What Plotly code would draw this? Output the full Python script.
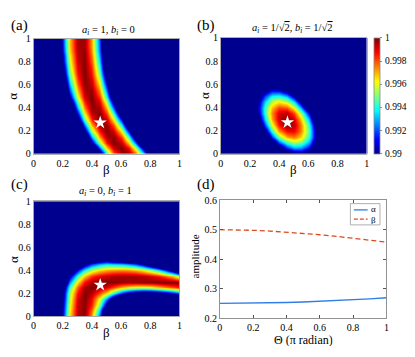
import plotly.graph_objects as go

# grid of the three fidelity maps
beta_vals = [0.0, 0.05, 0.1, 0.15, 0.2, 0.25, 0.3, 0.35, 0.4, 0.45, 0.5,
             0.55, 0.6, 0.65, 0.7, 0.75, 0.8, 0.85, 0.9, 0.95, 1.0]
alpha_vals = [0.0, 0.05, 0.1, 0.15, 0.2, 0.25, 0.3, 0.35, 0.4, 0.45, 0.5,
              0.55, 0.6, 0.65, 0.7, 0.75, 0.8, 0.85, 0.9, 0.95, 1.0]

# infidelity (1 - F) in units of 1e-3, one row per alpha value
infid_a = [
    [30, 30, 30, 30, 30, 30, 30, 29, 19.4, 11.8, 6.1, 2.2, 0.3, 0.2, 2.0, 5.7, 11.3, 18.7, 28, 30, 30],
    [30, 30, 30, 30, 30, 30, 30, 22.5, 14.2, 7.8, 3.3, 0.7, 0.0, 1.2, 4.4, 9.4, 16.3, 25.2, 30, 30, 30],
    [30, 30, 30, 30, 30, 30, 26.4, 17.2, 10.0, 4.7, 1.4, 0.0, 0.6, 3.2, 7.7, 14.1, 22.5, 30, 30, 30, 30],
    [30, 30, 30, 30, 30, 30, 21.8, 13.4, 7.1, 2.7, 0.4, 0.1, 1.9, 5.6, 11.5, 19.3, 29.1, 30, 30, 30, 30],
    [30, 30, 30, 30, 30, 27.4, 17.7, 10.1, 4.6, 1.3, 0.0, 0.9, 3.8, 8.9, 16.0, 25.3, 30, 30, 30, 30, 30],
    [30, 30, 30, 30, 30, 23.4, 14.4, 7.5, 2.9, 0.4, 0.2, 2.1, 6.2, 12.5, 21.0, 30, 30, 30, 30, 30, 30],
    [30, 30, 30, 30, 30, 19.9, 11.5, 5.4, 1.6, 0.0, 0.7, 3.6, 8.8, 16.3, 26.0, 30, 30, 30, 30, 30, 30],
    [30, 30, 30, 30, 26.7, 16.7, 9.1, 3.7, 0.7, 0.0, 1.7, 5.6, 11.8, 20.4, 30, 30, 30, 30, 30, 30, 30],
    [30, 30, 30, 30, 23.2, 13.9, 7.0, 2.4, 0.2, 0.4, 3.0, 7.9, 15.2, 24.9, 30, 30, 30, 30, 30, 30, 30],
    [30, 30, 30, 30, 20.6, 11.7, 5.4, 1.5, 0.0, 1.0, 4.4, 10.3, 18.6, 29.4, 30, 30, 30, 30, 30, 30, 30],
    [30, 30, 30, 28.6, 17.9, 9.7, 4.0, 0.8, 0.0, 1.8, 6.0, 12.7, 21.9, 30, 30, 30, 30, 30, 30, 30, 30],
    [30, 30, 30, 26.1, 15.9, 8.2, 3.1, 0.4, 0.2, 2.6, 7.5, 14.9, 24.8, 30, 30, 30, 30, 30, 30, 30, 30],
    [30, 30, 30, 24.0, 14.2, 7.0, 2.3, 0.1, 0.6, 3.5, 9.0, 17.1, 27.7, 30, 30, 30, 30, 30, 30, 30, 30],
    [30, 30, 30, 22.4, 12.9, 6.0, 1.7, 0.0, 0.9, 4.4, 10.4, 19.1, 30, 30, 30, 30, 30, 30, 30, 30, 30],
    [30, 30, 30, 20.7, 11.6, 5.2, 1.3, 0.0, 1.3, 5.2, 11.6, 20.7, 30, 30, 30, 30, 30, 30, 30, 30, 30],
    [30, 30, 30, 19.8, 10.9, 4.6, 1.0, 0.0, 1.6, 5.9, 12.8, 22.3, 30, 30, 30, 30, 30, 30, 30, 30, 30],
    [30, 30, 29.7, 18.6, 10.0, 4.1, 0.8, 0.1, 2.0, 6.6, 13.8, 23.6, 30, 30, 30, 30, 30, 30, 30, 30, 30],
    [30, 30, 29.2, 18.0, 9.6, 3.8, 0.6, 0.1, 2.3, 7.2, 14.7, 24.9, 30, 30, 30, 30, 30, 30, 30, 30, 30],
    [30, 30, 28.2, 17.3, 9.0, 3.4, 0.5, 0.2, 2.6, 7.7, 15.4, 25.8, 30, 30, 30, 30, 30, 30, 30, 30, 30],
    [30, 30, 27.7, 16.9, 8.7, 3.2, 0.4, 0.3, 2.8, 7.9, 15.8, 26.3, 30, 30, 30, 30, 30, 30, 30, 30, 30],
    [30, 30, 27.5, 16.7, 8.6, 3.2, 0.4, 0.3, 2.8, 8.1, 16.0, 26.5, 30, 30, 30, 30, 30, 30, 30, 30, 30],
]

infid_b = [
    [30, 30, 30, 30, 30, 30, 27.3, 20.9, 16.1, 12.7, 10.8, 10.4, 11.6, 14.2, 18.3, 23.9, 30, 30, 30, 30, 30],
    [30, 30, 30, 30, 30, 29.3, 21.9, 16.0, 11.6, 8.6, 7.2, 7.3, 8.9, 11.9, 16.5, 22.6, 30, 30, 30, 30, 30],
    [30, 30, 30, 30, 30, 24.3, 17.3, 11.8, 7.8, 5.4, 4.4, 4.9, 6.9, 10.5, 15.5, 22.0, 30, 30, 30, 30, 30],
    [30, 30, 30, 30, 28.0, 20.0, 13.5, 8.4, 4.9, 2.9, 2.4, 3.3, 5.8, 9.8, 15.3, 22.2, 30, 30, 30, 30, 30],
    [30, 30, 30, 30, 24.0, 16.5, 10.4, 5.8, 2.7, 1.2, 1.1, 2.5, 5.4, 9.9, 15.8, 23.2, 30, 30, 30, 30, 30],
    [30, 30, 30, 29.5, 20.8, 13.7, 8.1, 4.0, 1.3, 0.2, 0.6, 2.5, 5.8, 10.7, 17.1, 25.0, 30, 30, 30, 30, 30],
    [30, 30, 30, 26.6, 18.4, 11.7, 6.6, 2.9, 0.7, 0.0, 0.9, 3.2, 7.0, 12.3, 19.2, 27.5, 30, 30, 30, 30, 30],
    [30, 30, 30, 24.5, 16.8, 10.5, 5.8, 2.6, 0.9, 0.6, 1.9, 4.7, 9.0, 14.7, 22.0, 30, 30, 30, 30, 30, 30],
    [30, 30, 30, 23.2, 15.9, 10.1, 5.8, 3.1, 1.8, 2.0, 3.7, 7.0, 11.7, 17.9, 25.6, 30, 30, 30, 30, 30, 30],
    [30, 30, 30, 22.6, 15.8, 10.5, 6.6, 4.3, 3.5, 4.2, 6.3, 10.0, 15.2, 21.9, 30, 30, 30, 30, 30, 30, 30],
    [30, 30, 30, 22.8, 16.5, 11.6, 8.2, 6.3, 6.0, 7.1, 9.7, 13.8, 19.5, 26.6, 30, 30, 30, 30, 30, 30, 30],
    [30, 30, 30, 23.8, 17.9, 13.5, 10.6, 9.1, 9.2, 10.8, 13.9, 18.4, 24.5, 30, 30, 30, 30, 30, 30, 30, 30],
    [30, 30, 30, 25.6, 20.1, 16.2, 13.7, 12.7, 13.2, 15.3, 18.8, 23.8, 30, 30, 30, 30, 30, 30, 30, 30, 30],
    [30, 30, 30, 28.2, 23.1, 19.6, 17.6, 17.1, 18.0, 20.5, 24.5, 30, 30, 30, 30, 30, 30, 30, 30, 30, 30],
    [30, 30, 30, 30, 26.9, 23.9, 22.3, 22.2, 23.6, 26.6, 30, 30, 30, 30, 30, 30, 30, 30, 30, 30, 30],
    [30, 30, 30, 30, 30, 28.8, 27.7, 28.1, 30, 30, 30, 30, 30, 30, 30, 30, 30, 30, 30, 30, 30],
    [30] * 21,
    [30] * 21,
    [30] * 21,
    [30] * 21,
    [30] * 21,
]

infid_c = [
    [30, 30, 28.6, 17.5, 9.1, 3.5, 0.5, 0.2, 2.7, 8.0, 16.1, 27.0, 30, 30, 30, 30, 30, 30, 30, 30, 30],
    [30, 30, 28.9, 17.8, 9.4, 3.7, 0.6, 0.1, 2.2, 6.7, 13.6, 23.0, 30, 30, 30, 30, 30, 30, 30, 30, 30],
    [30, 30, 28.9, 18.0, 9.7, 4.0, 0.7, 0.1, 1.5, 5.0, 10.4, 17.8, 27.2, 30, 30, 30, 30, 30, 30, 30, 30],
    [30, 30, 29.6, 18.7, 10.2, 4.3, 0.9, 0.0, 1.2, 4.0, 7.6, 12.1, 17.0, 20.0, 22.0, 23.9, 24.2, 24.0, 23.4, 21.7, 20.2],
    [30, 30, 30, 19.5, 10.5, 4.6, 1.3, 0.0, 0.5, 2.0, 3.5, 5.9, 8.5, 10.2, 11.2, 11.9, 11.8, 11.2, 10.4, 9.2, 8.0],
    [30, 30, 30, 19.7, 11.5, 5.7, 2.1, 0.4, 0.0, 0.4, 0.9, 1.9, 3.0, 3.6, 4.0, 4.0, 3.8, 3.2, 2.6, 2.0, 1.4],
    [30, 30, 30, 21.5, 13.5, 7.4, 3.5, 1.3, 0.4, 0.0, 0.0, 0.1, 0.3, 0.4, 0.4, 0.3, 0.2, 0.1, 0.0, 0.0, 0.2],
    [30, 30, 30, 24.0, 15.5, 9.6, 5.6, 3.1, 1.7, 1.0, 0.7, 0.4, 0.3, 0.3, 0.3, 0.5, 0.8, 1.2, 2.0, 3.0, 4.6],
    [30, 30, 30, 26.3, 18.8, 12.9, 8.8, 6.0, 4.3, 3.3, 2.8, 2.6, 2.5, 2.6, 2.9, 3.5, 4.6, 5.9, 7.8, 10.6, 14.3],
    [30, 30, 30, 30, 23.1, 17.4, 13.0, 10.1, 8.1, 6.9, 6.3, 6.5, 6.7, 7.2, 8.0, 9.3, 11.7, 14.0, 17.6, 22.8, 29.5],
    [30, 30, 30, 30, 30, 22.7, 18.6, 15.5, 13.2, 11.8, 11.1, 12.3, 13.0, 14.1, 15.6, 17.8, 21.9, 25.6, 30, 30, 30],
    [30, 30, 30, 30, 30, 30, 25.4, 22.1, 19.7, 18.1, 17.4, 19.8, 21.4, 23.3, 25.8, 29.0, 30, 30, 30, 30, 30],
    [30, 30, 30, 30, 30, 30, 30, 30, 27.4, 25.8, 25.0, 29.1, 30, 30, 30, 30, 30, 30, 30, 30, 30],
    [30] * 21,
    [30] * 21,
    [30] * 21,
    [30] * 21,
    [30] * 21,
    [30] * 21,
    [30] * 21,
    [30] * 21,
]

# optimum marked by the star
star_beta = [0.457]
star_alpha = [0.272]

# panel (d)
theta = [0.0, 0.1, 0.2, 0.3, 0.4, 0.5, 0.6, 0.7, 0.8, 0.9, 1.0]
amp_alpha = [0.250, 0.2502, 0.2508, 0.2517, 0.2530, 0.2547, 0.2568, 0.2593, 0.2622, 0.2655, 0.2692]
amp_beta = [0.500, 0.4995, 0.4980, 0.4955, 0.4920, 0.4875, 0.4830, 0.4775, 0.4715, 0.4650, 0.4580]

tick_vals = [0, 0.2, 0.4, 0.6, 0.8, 1]
tick_text = ["0", "0.2", "0.4", "0.6", "0.8", "1"]
cbar_vals = [0.99, 0.992, 0.994, 0.996, 0.998, 1.0]
cbar_text = ["0.99", "0.992", "0.994", "0.996", "0.998", "1"]

JET = [
    [0.0, "rgb(0,0,143)"],
    [0.125, "rgb(0,0,255)"],
    [0.375, "rgb(0,255,255)"],
    [0.625, "rgb(255,255,0)"],
    [0.875, "rgb(255,0,0)"],
    [1.0, "rgb(128,0,0)"],
]
SERIF = "Liberation Serif, Times New Roman, serif"
BLUE = "#2f7de6"
RED = "#dd4a1e"
W, H = 415, 357
CBAR_TOP, CBAR_BOTTOM = 33, 153


def px_x(x):
    return x / W


def px_y(y):
    return 1 - y / H


def to_fidelity(grid):
    return [[1 - v / 1000 for v in row] for row in grid]


fig = go.Figure()

panels = [("x", "y", infid_a), ("x2", "y2", infid_b), ("x3", "y3", infid_c)]
for xa, ya, grid in panels:
    fig.add_trace(
        go.Heatmap(
            x=beta_vals,
            y=alpha_vals,
            z=to_fidelity(grid),
            coloraxis="coloraxis",
            zsmooth="best",
            xaxis=xa,
            yaxis=ya,
            hoverinfo="skip",
        )
    )
    fig.add_trace(
        go.Scatter(
            x=star_beta,
            y=star_alpha,
            mode="markers",
            marker={"symbol": "star", "size": 10, "color": "white", "line": {"width": 0}},
            xaxis=xa,
            yaxis=ya,
            showlegend=False,
            hoverinfo="skip",
        )
    )

fig.add_trace(
    go.Scatter(
        x=theta, y=amp_alpha, mode="lines", name="α",
        line={"color": BLUE, "width": 1.3},
        xaxis="x4", yaxis="y4", showlegend=False,
    )
)
fig.add_trace(
    go.Scatter(
        x=theta, y=amp_beta, mode="lines", name="β",
        line={"color": RED, "width": 1.3, "dash": "5px,3px"},
        xaxis="x4", yaxis="y4", showlegend=False,
    )
)

tick_font = {"family": SERIF, "size": 10, "color": "black"}


def heat_axes(x0, x1, y0, y1, anchor_x, anchor_y):
    xa = dict(
        domain=[px_x(x0), px_x(x1)], anchor=anchor_y, range=[0, 1],
        tickvals=tick_vals, ticktext=tick_text, ticks="", showline=True,
        linecolor="#9a9a9a", linewidth=0.8, mirror=True, showgrid=False,
        zeroline=False, tickfont=tick_font,
    )
    ya = dict(
        domain=[px_y(y1), px_y(y0)], anchor=anchor_x, range=[0, 1],
        tickvals=tick_vals, ticktext=tick_text, ticks="", showline=True,
        linecolor="#9a9a9a", linewidth=0.8, mirror=True, showgrid=False,
        zeroline=False, tickfont=tick_font,
    )
    return xa, ya


xa1, ya1 = heat_axes(31, 179, 34, 153, "x", "y")
xa2, ya2 = heat_axes(221, 369, CBAR_TOP, CBAR_BOTTOM, "x2", "y2")
xa3, ya3 = heat_axes(31, 179, 202, 321, "x3", "y3")

xa4 = dict(
    domain=[px_x(220), px_x(389)], anchor="y4", range=[0, 1],
    tickvals=tick_vals, ticktext=tick_text, ticks="inside", ticklen=3,
    tickcolor="#555", showline=True, linecolor="#777", linewidth=0.8,
    mirror="ticks", showgrid=False, zeroline=False, tickfont=tick_font,
)
ya4 = dict(
    domain=[px_y(323), px_y(201)], anchor="x4", range=[0.2, 0.6],
    tickvals=[0.2, 0.3, 0.4, 0.5, 0.6], ticktext=["0.2", "0.3", "0.4", "0.5", "0.6"],
    ticks="inside", ticklen=3, tickcolor="#555", showline=True, linecolor="#777",
    linewidth=0.8, mirror="ticks", showgrid=False, zeroline=False, tickfont=tick_font,
)

annotations = []


def label(text, x, y, size, angle=0, xanchor="center", height=None):
    ann = dict(
        text=text, x=px_x(x), y=px_y(y), xref="paper", yref="paper",
        showarrow=False, textangle=angle, xanchor=xanchor, yanchor="middle",
        borderpad=0, font={"family": SERIF, "size": size, "color": "black"},
    )
    if height:
        ann["height"] = height
    annotations.append(ann)


# panel letters
label("(a)", 17, 20, 15)
label("(b)", 206, 20, 15)
label("(c)", 17, 185, 15)
label("(d)", 206, 185, 15)

# panel titles
label("<i>a</i><sub><i>i</i></sub> = 1, <i>b</i><sub><i>i</i></sub> = 0", 107, 25, 10.5)
label(
    "<i>a</i><sub><i>i</i></sub> = 1/√<span style='text-decoration:overline'>2</span>, "
    "<i>b</i><sub><i>i</i></sub> = 1/√<span style='text-decoration:overline'>2</span>",
    294, 23, 10.5,
)
label("<i>a</i><sub><i>i</i></sub> = 0, <i>b</i><sub><i>i</i></sub> = 1", 104, 192, 10.5)

# axis titles
label("β", 105, 169, 13)
label("α", 10, 93, 13, angle=-90)
label("β", 295, 169, 13)
label("α", 205, 93, 13, angle=-90)
label("β", 105, 338, 13)
label("α", 10, 262, 13, angle=-90)
label("Θ (π radian)", 305, 345.5, 12, height=13)
label("amplitude", 195, 259, 11, angle=-90)

# colour bar tick labels, placed along the bar by value
for val, txt in zip(cbar_vals, cbar_text):
    ypos = CBAR_BOTTOM - (val - 0.99) / 0.01 * (CBAR_BOTTOM - CBAR_TOP)
    label(txt, 387, ypos, 9.5, xanchor="left")

# legend box of panel (d)
legend_items = [("α", BLUE, "solid", 211, 210), ("β", RED, "4px,2px", 220.5, 221.5)]
shapes = [
    dict(
        type="rect", xref="paper", yref="paper",
        x0=px_x(352.5), x1=px_x(382.5), y0=px_y(226.5), y1=px_y(204.5),
        line={"color": "#9a9a9a", "width": 0.8}, fillcolor="white", layer="above",
    )
]
for name, color, dash, line_y, text_y in legend_items:
    shapes.append(
        dict(
            type="line", xref="paper", yref="paper",
            x0=px_x(356), x1=px_x(370), y0=px_y(line_y), y1=px_y(line_y),
            line={"color": color, "width": 1.3, "dash": dash}, layer="above",
        )
    )
    label(name, 372.5, text_y, 9, xanchor="left", height=8)

fig.update_layout(
    width=W,
    height=H,
    margin={"l": 0, "r": 0, "t": 0, "b": 0},
    paper_bgcolor="white",
    plot_bgcolor="white",
    showlegend=False,
    hovermode=False,
    xaxis=xa1, yaxis=ya1,
    xaxis2=xa2, yaxis2=ya2,
    xaxis3=xa3, yaxis3=ya3,
    xaxis4=xa4, yaxis4=ya4,
    coloraxis=dict(
        cmin=0.99,
        cmax=1.0,
        colorscale=JET,
        colorbar=dict(
            x=px_x(376), xanchor="left", xpad=0,
            y=px_y((CBAR_TOP + CBAR_BOTTOM) / 2), yanchor="middle", ypad=0,
            len=(CBAR_BOTTOM - CBAR_TOP) / H, lenmode="fraction", thickness=6,
            outlinecolor="#8a8a8a", outlinewidth=0.8,
            tickvals=cbar_vals, showticklabels=False,
            ticks="outside", ticklen=2, tickcolor="#8a8a8a",
        ),
    ),
    shapes=shapes,
    annotations=annotations,
)

# the page body has a default 8px margin; drop it so the figure fills the window
fig.write_html(
    "out.html",
    config={"displayModeBar": False, "staticPlot": True},
    post_script="document.body.style.margin = '0';",
)
